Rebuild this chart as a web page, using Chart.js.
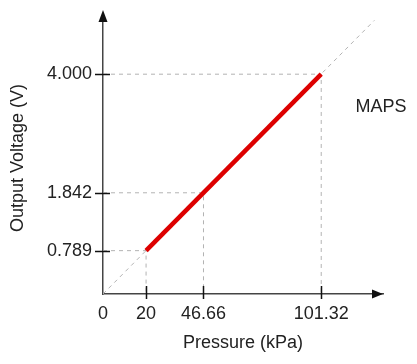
<!DOCTYPE html>
<html>
<head>
<meta charset="utf-8">
<script src="https://cdn.jsdelivr.net/npm/chart.js@4.4.1/dist/chart.umd.min.js"></script>
<style>
  html, body { margin: 0; padding: 0; background: #fff; }
  #wrap { width: 417px; height: 364px; }
</style>
</head>
<body>
<div id="wrap"><canvas id="chart" width="417" height="364"></canvas></div>
<script>
// ── Data ────────────────────────────────────────────────────
const pressureTicks = [0, 20, 46.66, 101.32];      // kPa
const voltageTicks  = [0.789, 1.842, 4.000];       // V
const markPressure  = [20, 46.66, 101.32];
const markVoltage   = [0.789, 1.842, 4.000];
const mapsPressure  = [20, 101.32];
const mapsVoltage   = [0.789, 4.000];
const idealPressure = [0, 126];
const idealVoltage  = [0, 4.98];

const FONT = "'Liberation Sans', Arial, sans-serif";
const INK = '#222';
const AXIS = '#444';
const GUIDE = '#b3b3b3';

Chart.defaults.font.family = FONT;
Chart.defaults.font.size = 18;
Chart.defaults.color = INK;
Chart.defaults.animation = false;

function pts(xs, ys) {
    return xs.map((x, i) => ({ x: x, y: ys[i] }));
}

// dashed guide from each axis to the marked point
const guideSets = markPressure.map((p, i) => ({
    data: [{ x: 0, y: markVoltage[i] }, { x: p, y: markVoltage[i] }, { x: p, y: 0 }],
    borderColor: GUIDE,
    borderWidth: 1,
    borderDash: [4, 4],
    pointRadius: 0,
    showLine: true,
    order: 3,
}));

// ── Arrows, tick marks, label ───────────────────────────────
const axisDecor = {
    id: 'axisDecor',
    afterDatasetsDraw(chart) {
        const { ctx, chartArea, scales: { x, y } } = chart;
        const x0 = x.getPixelForValue(0);
        const y0 = y.getPixelForValue(0);
        ctx.save();
        ctx.strokeStyle = AXIS;
        ctx.fillStyle = '#111';
        ctx.lineWidth = 1.5;

        // y axis extension + arrow
        ctx.beginPath();
        ctx.moveTo(x0, chartArea.top);
        ctx.lineTo(x0, chartArea.top - 4);
        ctx.stroke();
        ctx.beginPath();
        ctx.moveTo(x0, chartArea.top - 12);
        ctx.lineTo(x0 - 4.5, chartArea.top);
        ctx.lineTo(x0 + 4.5, chartArea.top);
        ctx.closePath();
        ctx.fill();

        // x arrow
        ctx.beginPath();
        ctx.moveTo(chartArea.right, y0);
        ctx.lineTo(chartArea.right - 11, y0 - 4.5);
        ctx.lineTo(chartArea.right - 11, y0 + 4.5);
        ctx.closePath();
        ctx.fill();

        // tick marks crossing the axes
        ctx.strokeStyle = '#111';
        ctx.beginPath();
        pressureTicks.filter(v => v !== 0).forEach(v => {
            const px = Math.round(x.getPixelForValue(v)) + 0.5;
            ctx.moveTo(px, y0 - 8);
            ctx.lineTo(px, y0 + 5);
        });
        voltageTicks.forEach(v => {
            const py = Math.round(y.getPixelForValue(v)) + 0.5;
            ctx.moveTo(x0 - 8, py);
            ctx.lineTo(x0 + 7, py);
        });
        ctx.stroke();

        // curve label
        ctx.fillStyle = INK;
        ctx.font = '18px ' + FONT;
        ctx.textAlign = 'center';
        ctx.textBaseline = 'middle';
        ctx.fillText('MAPS', chartArea.right - 2, y.getPixelForValue(3.4));
        ctx.restore();
    },
};

new Chart(document.getElementById('chart'), {
    type: 'scatter',
    data: {
        datasets: [
            {
                data: pts(mapsPressure, mapsVoltage),
                borderColor: '#dd0000',
                borderWidth: 4.5,
                borderCapStyle: 'butt',
                pointRadius: 0,
                showLine: true,
                order: 1,
            },
            {
                data: pts(idealPressure, idealVoltage),
                borderColor: GUIDE,
                borderWidth: 1,
                borderDash: [4, 4],
                pointRadius: 0,
                showLine: true,
                clip: false,
                order: 2,
            },
            ...guideSets,
        ],
    },
    options: {
        responsive: false,
        layout: { padding: { top: 22, right: 34, bottom: 0, left: 0 } },
        plugins: {
            legend: { display: false },
            tooltip: { enabled: false },
        },
        scales: {
            x: {
                type: 'linear',
                min: 0,
                max: 130,
                afterBuildTicks: s => { s.ticks = pressureTicks.map(v => ({ value: v })); },
                afterFit: s => { s.height = 70; },
                ticks: {
                    padding: 9,
                    maxRotation: 0,
                    autoSkip: false,
                    callback: v => String(v),
                },
                grid: { drawOnChartArea: false, drawTicks: false },
                border: { color: AXIS, width: 1.5 },
                title: {
                    display: true,
                    text: 'Pressure (kPa)',
                    font: { size: 18 },
                    padding: { top: 0, bottom: 10 },
                },
            },
            y: {
                type: 'linear',
                min: 0,
                max: 4.95,
                afterBuildTicks: s => { s.ticks = voltageTicks.map(v => ({ value: v })); },
                afterFit: s => { s.width = 103; },
                ticks: {
                    padding: 11,
                    autoSkip: false,
                    callback: v => v.toFixed(3),
                },
                grid: { drawOnChartArea: false, drawTicks: false },
                border: { color: AXIS, width: 1.5 },
                title: {
                    display: true,
                    text: 'Output Voltage (V)',
                    font: { size: 18 },
                    padding: { top: 7, bottom: 0 },
                },
            },
        },
    },
    plugins: [axisDecor],
});
</script>
</body>
</html>
